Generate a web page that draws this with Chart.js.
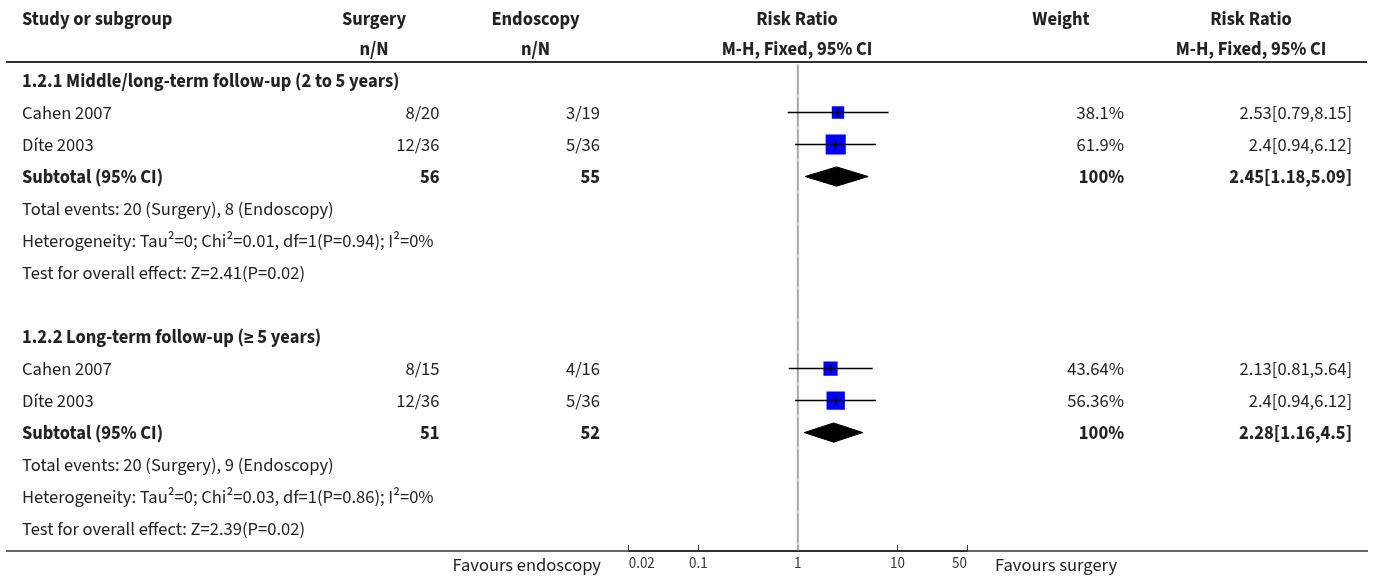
<!DOCTYPE html>
<html>
<head>
<meta charset="utf-8">
<script src="https://cdn.jsdelivr.net/npm/chart.js@4.4.1/dist/chart.umd.min.js"></script>
<style>
  body { margin: 0; background: #fff; }
</style>
</head>
<body>
<canvas id="grafico" width="1375" height="580"></canvas>
<script>
const groupTitles = ['1.2.1 Middle/long-term follow-up (2 to 5 years)', '1.2.2 Long-term follow-up (≥ 5 years)'];

const studyNames = ['Cahen 2007', 'Díte 2003', 'Cahen 2007', 'Díte 2003'];
const studyGroup = [0, 0, 1, 1];
const surgeryEvents = ['8/20', '12/36', '8/15', '12/36'];
const endoscopyEvents = ['3/19', '5/36', '4/16', '5/36'];
const studyRR = [2.53, 2.4, 2.13, 2.4];
const studyLow = [0.79, 0.94, 0.81, 0.94];
const studyHigh = [8.15, 6.12, 5.64, 6.12];
const studyWeight = [38.1, 61.9, 43.64, 56.36];

const subtotalSurgery = [56, 51];
const subtotalEndoscopy = [55, 52];
const subtotalRR = [2.45, 2.28];
const subtotalLow = [1.18, 1.16];
const subtotalHigh = [5.09, 4.5];
const subtotalWeight = [100, 100];

const totalEvents = ['Total events: 20 (Surgery), 8 (Endoscopy)', 'Total events: 20 (Surgery), 9 (Endoscopy)'];
const heterogeneity = ['Heterogeneity: Tau²=0; Chi²=0.01, df=1(P=0.94); I²=0%', 'Heterogeneity: Tau²=0; Chi²=0.03, df=1(P=0.86); I²=0%'];
const overallEffect = ['Test for overall effect: Z=2.41(P=0.02)', 'Test for overall effect: Z=2.39(P=0.02)'];

const tickValues = [0.02, 0.1, 1, 10, 50];

// Each group takes a title row, its studies, the subtotal, three summary lines and a blank row.
const studyRow = [];
const subtotalRow = [];
const groupRow = [];
let row = 0;
groupTitles.forEach((titulo, g) => {
    groupRow[g] = row++;
    studyNames.forEach((nome, i) => {
        if (studyGroup[i] === g) studyRow[i] = row++;
    });
    subtotalRow[g] = row;
    row += 5;
});

const FONT = '18.5px "Source Sans 3"';
const BOLD = 'bold 18.5px "Source Sans 3"';
const TEXT = '#222';
const BASE = 6.5; // baseline below the row centre

// Column positions
const colStudy = 22;
const colSurgery = 439.5;
const colEndoscopy = 600;
const colWeight = 1124;
const colRR = 1352;

function write(ctx, str, x, y, align, bold) {
    ctx.font = bold ? BOLD : FONT;
    ctx.textAlign = align;
    ctx.textBaseline = 'alphabetic';
    ctx.fillStyle = TEXT;
    ctx.fillText(str, x, y);
}

const forestText = {
    id: 'forestText',
    beforeDatasetsDraw(chart) {
        // line of no effect
        const ctx = chart.ctx;
        const x = chart.scales.x.getPixelForValue(1);
        ctx.save();
        ctx.strokeStyle = '#a6a6a6';
        ctx.lineWidth = 2;
        ctx.setLineDash([31, 1]);
        ctx.beginPath();
        ctx.moveTo(x, chart.chartArea.top);
        ctx.lineTo(x, chart.chartArea.bottom);
        ctx.stroke();
        ctx.restore();
    },
    afterDraw(chart) {
        const ctx = chart.ctx;
        const yScale = chart.scales.y;
        const y = r => yScale.getPixelForValue(r) + BASE;
        ctx.save();

        // header
        write(ctx, 'Study or subgroup', colStudy, 25, 'left', true);
        write(ctx, 'Surgery', 374, 25, 'center', true);
        write(ctx, 'n/N', 374, 55, 'center', true);
        write(ctx, 'Endoscopy', 535.5, 25, 'center', true);
        write(ctx, 'n/N', 535.5, 55, 'center', true);
        write(ctx, 'Risk Ratio', 797, 25, 'center', true);
        write(ctx, 'M-H, Fixed, 95% CI', 797, 55, 'center', true);
        write(ctx, 'Weight', 1061, 25, 'center', true);
        write(ctx, 'Risk Ratio', 1251, 25, 'center', true);
        write(ctx, 'M-H, Fixed, 95% CI', 1251, 55, 'center', true);

        ctx.strokeStyle = '#333';
        ctx.lineWidth = 2;
        ctx.beginPath();
        ctx.moveTo(6, 62);
        ctx.lineTo(1367, 62);
        ctx.stroke();

        groupTitles.forEach((titulo, g) => {
            write(ctx, titulo, colStudy, y(groupRow[g]), 'left', true);
        });

        studyNames.forEach((nome, i) => {
            const yy = y(studyRow[i]);
            write(ctx, nome, colStudy, yy, 'left', false);
            write(ctx, surgeryEvents[i], colSurgery, yy, 'right', false);
            write(ctx, endoscopyEvents[i], colEndoscopy, yy, 'right', false);
            write(ctx, studyWeight[i] + '%', colWeight, yy, 'right', false);
            write(ctx, `${studyRR[i]}[${studyLow[i]},${studyHigh[i]}]`, colRR, yy, 'right', false);
        });

        subtotalRR.forEach((rr, g) => {
            const r = subtotalRow[g];
            write(ctx, 'Subtotal (95% CI)', colStudy, y(r), 'left', true);
            write(ctx, String(subtotalSurgery[g]), colSurgery, y(r), 'right', true);
            write(ctx, String(subtotalEndoscopy[g]), colEndoscopy, y(r), 'right', true);
            write(ctx, subtotalWeight[g] + '%', colWeight, y(r), 'right', true);
            write(ctx, `${rr}[${subtotalLow[g]},${subtotalHigh[g]}]`, colRR, y(r), 'right', true);
            write(ctx, totalEvents[g], colStudy, y(r + 1), 'left', false);
            write(ctx, heterogeneity[g], colStudy, y(r + 2), 'left', false);
            write(ctx, overallEffect[g], colStudy, y(r + 3), 'left', false);
        });

        // bottom rule and axis captions
        ctx.lineWidth = 1.5;
        ctx.beginPath();
        ctx.moveTo(6, chart.chartArea.bottom);
        ctx.lineTo(1368, chart.chartArea.bottom);
        ctx.stroke();

        write(ctx, 'Favours endoscopy', 601, 571, 'right', false);
        write(ctx, 'Favours surgery', 995, 571, 'left', false);
        ctx.restore();
    }
};

const datasets = [];

// small vertical mark at each point estimate
datasets.push({
    data: studyRR.map((v, i) => ({ x: v, y: studyRow[i] })),
    pointStyle: 'line',
    pointRotation: 90,
    pointRadius: 4.5,
    pointBorderColor: '#000',
    pointBorderWidth: 1.5,
    order: 0
});

// confidence intervals
studyRR.forEach((v, i) => {
    datasets.push({
        data: [{ x: studyLow[i], y: studyRow[i] }, { x: studyHigh[i], y: studyRow[i] }],
        showLine: true,
        borderColor: '#000',
        borderWidth: 1.5,
        pointRadius: 0,
        order: 1
    });
});

// squares sized by weight
datasets.push({
    data: studyRR.map((v, i) => ({ x: v, y: studyRow[i] })),
    pointStyle: 'rect',
    pointRadius: studyWeight.map(w => w * 0.325 / Math.SQRT2),
    pointBackgroundColor: '#0000ff',
    pointBorderWidth: 0,
    order: 2
});

// subtotal diamonds
subtotalRR.forEach((v, g) => {
    const r = subtotalRow[g];
    datasets.push({
        data: [
            { x: subtotalLow[g], y: r },
            { x: v, y: r - 0.3 },
            { x: subtotalHigh[g], y: r },
            { x: v, y: r + 0.3 },
            { x: subtotalLow[g], y: r }
        ],
        showLine: true,
        fill: 'shape',
        backgroundColor: '#000',
        borderColor: '#000',
        borderWidth: 1,
        pointRadius: 0,
        tension: 0,
        order: 3
    });
});

const contexto = document.getElementById('grafico');

new Chart(contexto, {
    type: 'scatter',
    data: { datasets: datasets },
    options: {
        responsive: false,
        animation: false,
        devicePixelRatio: 1,
        layout: { padding: { left: 628.7, right: 408, top: 64.5, bottom: 0 } },
        plugins: { legend: { display: false }, tooltip: { enabled: false } },
        scales: {
            x: {
                type: 'logarithmic',
                min: 0.02,
                max: 50,
                afterBuildTicks: scale => { scale.ticks = tickValues.map(v => ({ value: v })); },
                afterFit: scale => { scale.height = 29; },
                grid: { drawOnChartArea: false, drawTicks: true, tickLength: -6, color: '#333', lineWidth: 1 },
                border: { display: true, color: '#333', width: 2 },
                ticks: {
                    align: 'inner',
                    padding: 11,
                    autoSkip: false,
                    maxRotation: 0,
                    color: '#333',
                    font: { family: '"Source Sans 3"', size: 15 },
                    callback: v => String(v)
                }
            },
            y: { type: 'linear', min: -0.5, max: 14.7, reverse: true, display: false }
        }
    },
    plugins: [forestText]
});
</script>
</body>
</html>
